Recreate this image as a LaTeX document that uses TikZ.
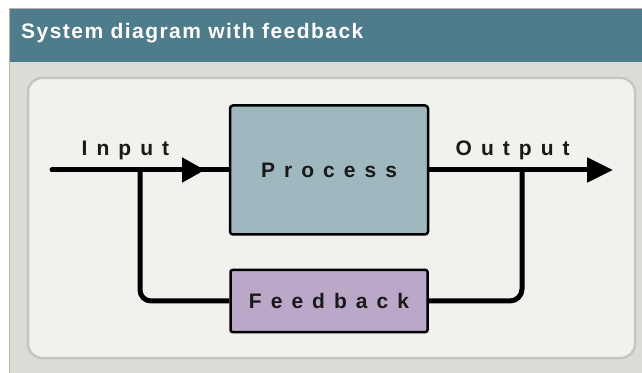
\documentclass[tikz,border=0pt]{standalone}
\usepackage{fontspec}
\setmainfont{Liberation Sans}
\newfontfamily\lblfont[LetterSpace=43]{Liberation Sans}
\newfontfamily\headfont[LetterSpace=7]{Liberation Sans}
\usetikzlibrary{positioning,arrows.meta}
\definecolor{headteal}{HTML}{4F7C8A}
\definecolor{framegray}{HTML}{DCDCD6}
\definecolor{frameline}{HTML}{B4B4AC}
\definecolor{panelfill}{HTML}{F1F1ED}
\definecolor{panelline}{HTML}{C6C6C0}
\definecolor{procfill}{HTML}{9FB8BF}
\definecolor{fbfill}{HTML}{BBA7C8}

\begin{document}
\begin{tikzpicture}[x=1pt,y=1pt,
                    wire/.style={line width=5pt,black},
                    bigtip/.style={-{Triangle[length=#1,width=24pt]}},
                    block/.style={draw=black,line width=2.5pt,rounded corners=3pt,
                                  font=\lblfont\bfseries\fontsize{21}{25}\selectfont,
                                  text=black!90},
                    lbl/.style={font=\lblfont\bfseries\fontsize{21}{25}\selectfont,
                                text=black!90,anchor=base west,inner sep=0pt},
                    node distance=33pt]

  % frame, header bar and panel
  \useasboundingbox (0,0) rectangle (642,372);
  \fill[white] (0,0) rectangle (642,372);
  \draw[frameline,line width=1.2pt,fill=framegray] (9.5,-5) rectangle (650,363.5);
  \fill[headteal] (10,310) rectangle (642,363);
  \node[anchor=base west,inner sep=0pt,text=white,
        font=\headfont\bfseries\fontsize{21}{25}\selectfont] (title) at (21,333)
        {System diagram with feedback};
  \draw[panelline,line width=2.5pt,fill=panelfill,rounded corners=14pt]
        (28,14) rectangle (635,294);

  \node[block,fill=procfill,minimum width=198pt,minimum height=129pt] (proc) at (329,202) {Process};
  \node[block,fill=fbfill,minimum width=197pt,minimum height=62pt,rounded corners=2pt]
        (fb) [below=of proc] {Feedback};

  \coordinate (in)    at (52,202);
  \coordinate (split) at (140,202);
  \coordinate (tipin) at (205,202);
  \coordinate (join)  at (522,202);
  \coordinate (out)   at (613,202);

  \node[lbl] (inlbl)  at (81.5,216) {Input};
  \node[lbl] (outlbl) at (455.5,216) {Output};

  \draw[wire,line cap=round] (in) -- (proc.west);
  \draw[wire,bigtip=23pt] (split) -- (tipin);
  \draw[wire,bigtip=26pt] (proc.east) -- (out);
  \draw[wire,rounded corners=11pt] (split) |- (fb.west);
  \draw[wire,rounded corners=12pt] (join) |- (fb.east);
\end{tikzpicture}
\end{document}
